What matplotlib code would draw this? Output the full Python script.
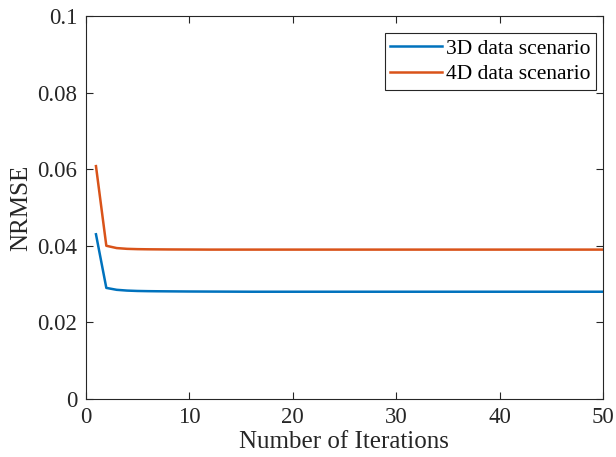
import matplotlib

matplotlib.use("Agg")
import matplotlib.pyplot as plt
import numpy as np

plt.rcParams["font.family"] = ["Liberation Serif", "DejaVu Serif"]

iterations = np.arange(1, 51)
nrmse_3d = [0.0430, 0.0290, 0.0285, 0.0283, 0.02820, 0.02815, 0.02812, 0.02810, 0.02808, 0.02806,
            0.02805, 0.02804, 0.02803, 0.02802, 0.02801, 0.0280, 0.0280, 0.0280, 0.0280, 0.0280,
            0.0280, 0.0280, 0.0280, 0.0280, 0.0280, 0.0280, 0.0280, 0.0280, 0.0280, 0.0280,
            0.0280, 0.0280, 0.0280, 0.0280, 0.0280, 0.0280, 0.0280, 0.0280, 0.0280, 0.0280,
            0.0280, 0.0280, 0.0280, 0.0280, 0.0280, 0.0280, 0.0280, 0.0280, 0.0280, 0.0280]
nrmse_4d = [0.0608, 0.0400, 0.0394, 0.0392, 0.03912, 0.03908, 0.03906, 0.03904, 0.03903, 0.03902,
            0.03901, 0.03900, 0.0390, 0.0390, 0.0390, 0.0390, 0.0390, 0.0390, 0.0390, 0.0390,
            0.0390, 0.0390, 0.0390, 0.0390, 0.0390, 0.0390, 0.0390, 0.0390, 0.0390, 0.0390,
            0.0390, 0.0390, 0.0390, 0.0390, 0.0390, 0.0390, 0.0390, 0.0390, 0.0390, 0.0390,
            0.0390, 0.0390, 0.0390, 0.0390, 0.0390, 0.0390, 0.0390, 0.0390, 0.0390, 0.0390]
labels = ["3D data scenario", "4D data scenario"]
xticks = [0, 10, 20, 30, 40, 50]
yticks = [0, 0.02, 0.04, 0.06, 0.08, 0.1]
ytick_labels = ["0", "0.02", "0.04", "0.06", "0.08", "0.1"]

fig = plt.figure(figsize=(6.16, 4.57), dpi=100)
ax = fig.add_axes([0.139, 0.127, 0.840, 0.838])

ax.plot(iterations, nrmse_3d, color="#0072BD", lw=1.8, label=labels[0])
ax.plot(iterations, nrmse_4d, color="#D95319", lw=1.8, label=labels[1])

ax.set_xlim(0, 50)
ax.set_ylim(0, 0.1)
ax.set_xticks(xticks)
ax.set_yticks(yticks)
ax.set_yticklabels(ytick_labels)

axis_color = "#262626"
for sp in ax.spines.values():
    sp.set_color(axis_color)
    sp.set_linewidth(0.8)
ax.tick_params(direction="in", top=True, right=True, length=5, width=0.8,
               color=axis_color, labelcolor=axis_color, labelsize=16.5, pad=6)

ax.set_xlabel("Number of Iterations", fontsize=18, color=axis_color, labelpad=2)
ax.set_ylabel("NRMSE", fontsize=18, color=axis_color, labelpad=4)

leg = ax.legend(loc="upper right", bbox_to_anchor=(0.986, 0.955), fontsize=15.5,
                fancybox=False, edgecolor=axis_color, framealpha=1,
                handlelength=2.4, handletextpad=0.2, borderpad=0.25,
                labelspacing=0.25, borderaxespad=0)
leg.get_frame().set_linewidth(0.8)

fig.savefig("out.png", dpi=100)
